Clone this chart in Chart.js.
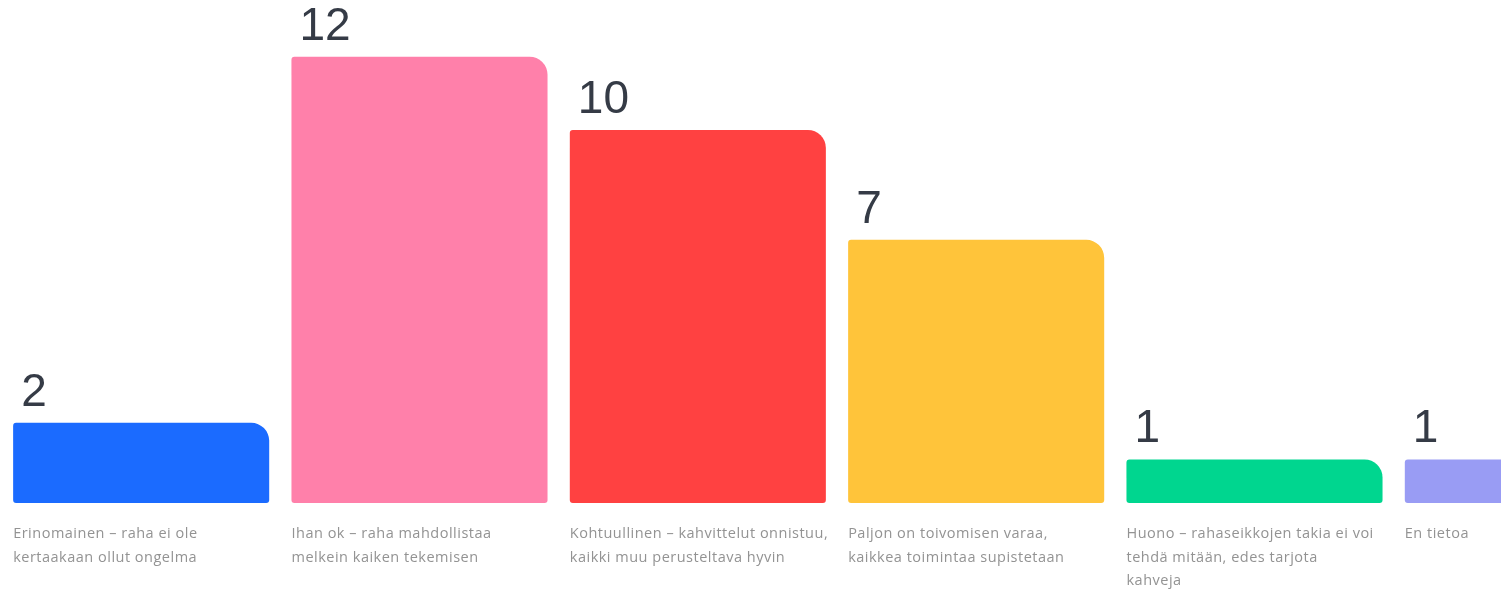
<!DOCTYPE html>
<html lang="fi">
<head>
  <meta charset="UTF-8" />
  <title>Kahvikassan tilanne</title>
  <script src="https://cdn.jsdelivr.net/npm/chart.js"></script>
  <style>
    html, body { margin: 0; padding: 0; background: #fff; overflow: hidden; }
    #wrap { position: relative; width: 1680px; height: 593px; }
  </style>
</head>
<body>
  <div id="wrap"><canvas id="chart"></canvas></div>

  <script>
    // Vastausvaihtoehdot (rivitetty kuten kuvassa)
    const categories = [
      ['Erinomainen – raha ei ole', 'kertaakaan ollut ongelma'],
      ['Ihan ok – raha mahdollistaa', 'melkein kaiken tekemisen'],
      ['Kohtuullinen – kahvittelut onnistuu,', 'kaikki muu perusteltava hyvin'],
      ['Paljon on toivomisen varaa,', 'kaikkea toimintaa supistetaan'],
      ['Huono – rahaseikkojen takia ei voi', 'tehdä mitään, edes tarjota', 'kahveja'],
      ['En tietoa']
    ];
    const votes = [2, 12, 10, 7, 1, 1];
    const barColors = ['#1b6bff', '#ff80aa', '#ff4141', '#ffc43a', '#00d68f', '#999cf4'];

    // arvot palkkien yläpuolelle + selitteet alle
    const barLabels = {
      id: 'barLabels',
      afterDatasetsDraw(chart) {
        const ctx = chart.ctx;
        const bottom = chart.chartArea.bottom;
        ctx.save();
        ctx.textAlign = 'left';
        ctx.textBaseline = 'alphabetic';
        chart.getDatasetMeta(0).data.forEach((bar, i) => {
          const left = bar.x - bar.width / 2;
          ctx.fillStyle = '#353b46';
          ctx.letterSpacing = '0px';
          ctx.font = '46px "Liberation Sans", Arial, sans-serif';
          ctx.fillText(String(votes[i]), left + 8, bar.y - 17);
          ctx.fillStyle = '#939393';
          ctx.letterSpacing = '0.5px';
          ctx.font = '14.5px "Open Sans", sans-serif';
          categories[i].forEach((line, j) => {
            ctx.fillText(line, left, bottom + 35 + j * 23.5);
          });
        });
        ctx.restore();
      }
    };

    new Chart(document.getElementById('chart'), {
      type: 'bar',
      data: {
        labels: categories,
        datasets: [{
          data: votes,
          backgroundColor: barColors,
          base: -0.19,
          borderSkipped: false,
          borderRadius: { topLeft: 3, topRight: 18, bottomLeft: 3, bottomRight: 3 },
          categoryPercentage: 1,
          barPercentage: 0.92
        }]
      },
      options: {
        responsive: true,
        maintainAspectRatio: false,
        animation: false,
        layout: { padding: { left: 2, right: 8, top: 0, bottom: 90 } },
        plugins: { legend: { display: false }, tooltip: { enabled: false } },
        scales: {
          x: { display: false },
          y: { display: false, min: -0.19, max: 13.55 }
        }
      },
      plugins: [barLabels]
    });
  </script>
</body>
</html>
